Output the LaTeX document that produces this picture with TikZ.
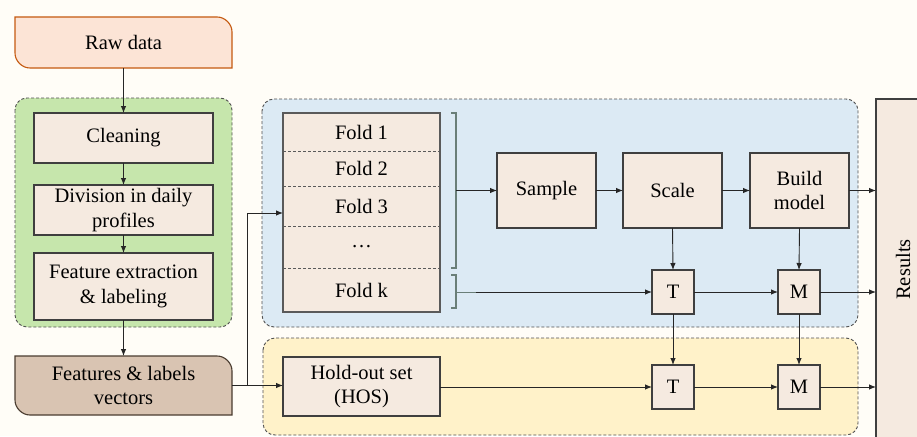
\documentclass[tikz,border=0pt]{standalone}
\usepackage{fontspec}
\setmainfont{Liberation Serif}
\usetikzlibrary{arrows.meta,calc}
\definecolor{bgc}{HTML}{FFFDF7}
\definecolor{boxfill}{HTML}{F5EAE0}
\definecolor{boxline}{HTML}{3F3F3F}
\definecolor{foldline}{HTML}{5A5A5A}
\definecolor{rawfill}{HTML}{FCE4D6}
\definecolor{rawline}{HTML}{C55A11}
\definecolor{featfill}{HTML}{D9C4B2}
\definecolor{featline}{HTML}{4A3C30}
\definecolor{greenfill}{HTML}{C6E6AC}
\definecolor{bluefill}{HTML}{DCEAF4}
\definecolor{yellowfill}{HTML}{FFF2C9}
\definecolor{grpline}{HTML}{505050}
\definecolor{brk}{HTML}{6A7F78}
\pgfdeclarelayer{bg}
\pgfdeclarelayer{mid}
\pgfsetlayers{bg,mid,main}
\tikzset{
  txt/.style={font=\fontsize{20.5}{24.5}\selectfont, align=center, text=black, inner sep=0pt, outer sep=0pt},
  box/.style={txt, draw=boxline, fill=boxfill, line width=1.1pt},
  plain/.style={txt},
  grp/.style={draw=grpline, dash pattern=on 3pt off 2pt, line width=0.9pt, rounded corners=12pt},
  arr/.style={-{Latex[length=7pt,width=5.5pt]}, line width=0.9pt, draw=black!85},
  ln/.style={line width=0.9pt, draw=black!85},
  brkline/.style={line width=1.3pt, draw=brk},
}
\begin{document}
\begin{tikzpicture}[x=1pt,y=-1pt]
\begin{pgfonlayer}{bg}
  \fill[bgc] (0,0) rectangle (917,436);
  % groups
  \path[grp, fill=greenfill] (15,98) rectangle (232,327);
  \path[grp, fill=bluefill] (262,99) rectangle (858,327);
  \path[grp, fill=yellowfill] (263,338) rectangle (858,435);
\end{pgfonlayer}
\path[use as bounding box] (0,0) rectangle (917,436);
\clip (0,0) rectangle (917,436);

% left column
\node[plain, minimum width=217, minimum height=51] (raw) at (123.5,42.5) {Raw data};
\node[box, minimum width=179, minimum height=50] (clean) at (123.5,138) {Cleaning};
\node[box, minimum width=179, minimum height=50] (div) at (123.5,210) {Division in daily\\profiles};
\node[box, minimum width=179, minimum height=67] (fe) at (123.5,286.5) {Feature extraction\\\& labeling};
\node[plain, minimum width=217, minimum height=59] (feat) at (123.5,385.5) {Features \& labels\\vectors};

\begin{pgfonlayer}{mid}
  \draw[fill=rawfill, draw=rawline, line width=1.1pt]
    (raw.north west) -- ([xshift=-15pt]raw.north east)
    .. controls ([xshift=-7pt]raw.north east) and ([yshift=-7pt]raw.north east) .. ([yshift=-15pt]raw.north east)
    -- (raw.south east) -- ([xshift=15pt]raw.south west)
    .. controls ([xshift=7pt]raw.south west) and ([yshift=7pt]raw.south west) .. ([yshift=15pt]raw.south west)
    -- cycle;
  \draw[fill=featfill, draw=featline, line width=1.1pt]
    (feat.north west) -- ([xshift=-15pt]feat.north east)
    .. controls ([xshift=-7pt]feat.north east) and ([yshift=-7pt]feat.north east) .. ([yshift=-15pt]feat.north east)
    -- (feat.south east) -- ([xshift=15pt]feat.south west)
    .. controls ([xshift=7pt]feat.south west) and ([yshift=7pt]feat.south west) .. ([yshift=15pt]feat.south west)
    -- cycle;
\end{pgfonlayer}

\draw[arr] (raw.south) -- (clean.north);
\draw[arr] (clean.south) -- (div.north);
\draw[arr] (div.south) -- (fe.north);
\draw[arr] (fe.south) -- (feat.north);

% folds
\node[plain, minimum width=157, minimum height=38] (f1) at (361.5,132) {Fold 1};
\node[plain, minimum width=157, minimum height=35] (f2) at (361.5,168.5) {Fold 2};
\node[plain, minimum width=157, minimum height=40] (f3) at (361.5,206) {Fold 3};
\node[plain, minimum width=157, minimum height=42] (fd) at (361.5,247) {\dots};
\node[plain, minimum width=157, minimum height=44] (fk) at (361.5,290) {Fold k};
\begin{pgfonlayer}{mid}
  \draw[fill=boxfill, draw=foldline, line width=1.4pt] (f1.north west) rectangle (fk.south east);
  \draw[foldline, line width=0.8pt, dash pattern=on 3pt off 2pt] (f1.south west) -- (f1.south east);
  \draw[foldline, line width=0.8pt, dash pattern=on 3pt off 2pt] (f2.south west) -- (f2.south east);
  \draw[foldline, line width=0.8pt, dash pattern=on 3pt off 2pt] (f3.south west) -- (f3.south east);
  \draw[foldline, line width=0.8pt, dash pattern=on 3pt off 2pt] (fd.south west) -- (fd.south east);
\end{pgfonlayer}

% brackets
\coordinate (b1t) at ([xshift=16pt]f1.north east);
\coordinate (b1b) at ([xshift=16pt]fd.south east);
\coordinate (b1) at ($(b1t)!0.5!(b1b)$);
\coordinate (b2t) at ([xshift=16pt,yshift=-7pt]fk.north east);
\coordinate (b2b) at ([xshift=16pt,yshift=4pt]fk.south east);
\draw[brkline] ([xshift=-5pt]b1t) -- (b1t) -- (b1b) -- ([xshift=-5pt]b1b);
\draw[brkline] ([xshift=-5pt]b2t) -- (b2t) -- (b2b) -- ([xshift=-5pt]b2b);

% pipeline
\node[box, minimum width=99, minimum height=75] (sample) at (546.5,190.5) {Sample};
\node[box, minimum width=99, minimum height=75] (scale) at (672.5,190.5) {Scale};
\node[box, minimum width=99, minimum height=75] (build) at (799.5,190.5) {Build\\model};
\node[box, minimum width=42, minimum height=44] (t1) at (673,292) {T};
\node[box, minimum width=42, minimum height=44] (m1) at (799,292) {M};
\node[box, minimum width=157, minimum height=59] (hold) at (361.5,386.5) {Hold-out set\\(HOS)};
\node[box, minimum width=42, minimum height=44] (t2) at (673,387) {T};
\node[box, minimum width=42, minimum height=44] (m2) at (799,387) {M};
\node[box, minimum width=341, minimum height=54, rotate=90] (res) at (903,269.5) {Results};

\coordinate (b2) at (b2t |- t1.west);
\draw[arr] (b1) -- (b1 -| sample.west);
\draw[ln, draw=brk] (b2) -- ++(20,0);
\draw[arr] ([xshift=20pt]b2) -- (t1.west);
\draw[arr] (sample.east) -- (scale.west);
\draw[arr] (scale.east) -- (build.west);
\draw[arr] (build.east) -- (build.east -| res.north);
\draw[arr] (scale.south) -- (t1.north);
\draw[arr] (build.south) -- (m1.north);
\draw[arr] (t1.east) -- (m1.west);
\draw[arr] (m1.east) -- (m1.east -| res.north);
\draw[arr] (t1.south) -- (t2.north);
\draw[arr] (m1.south) -- (m2.north);
\draw[arr] (t2.east) -- (m2.west);
\draw[arr] (m2.east) -- (m2.east -| res.north);

% input connector
\coordinate (j) at ([xshift=15pt]feat.east);
\draw[ln] (feat.east) -- (j);
\draw[arr] (j) |- ([yshift=-7pt]f3.west);
\draw[arr] (j) -- (j -| hold.west);
\draw[arr] (hold.east |- t2.west) -- (t2.west);
\end{tikzpicture}
\end{document}
